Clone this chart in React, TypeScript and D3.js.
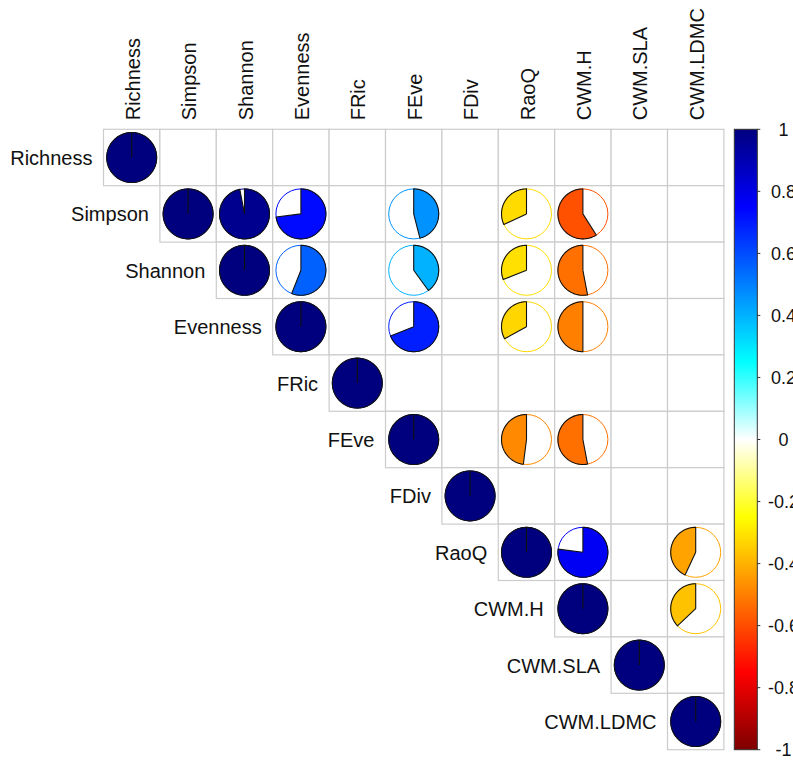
import React from "react";
import * as d3 from "d3";

const variables = ["Richness", "Simpson", "Shannon", "Evenness", "FRic", "FEve", "FDiv", "RaoQ", "CWM.H", "CWM.SLA", "CWM.LDMC"];

// upper-triangle correlations (row, column, value); blank cells omitted
const rowIndex = [0, 1, 1, 1, 1, 1, 1, 2, 2, 2, 2, 2, 3, 3, 3, 3, 4, 5, 5, 5, 6, 7, 7, 7, 8, 8, 9, 10];
const colIndex = [0, 1, 2, 3, 5, 7, 8, 2, 3, 5, 7, 8, 3, 5, 7, 8, 4, 5, 7, 8, 6, 7, 8, 10, 8, 10, 9, 10];
const corrValues = [1, 1, 0.97, 0.73, 0.46, -0.32, -0.59, 1, 0.56, 0.40, -0.31, -0.53, 1, 0.69, -0.33, -0.5, 1, 1, -0.48, -0.53, 1, 1, 0.77, -0.43, 1, -0.37, 1, 1];

const paletteStops = [-1, -0.75, -0.5, -0.25, 0, 0.25, 0.5, 0.75, 1];
const paletteColors = ["#7F0000", "#FF0000", "#FF7F00", "#FFFF00", "#FFFFFF", "#00FFFF", "#007FFF", "#0000FF", "#00007F"];
const legendTicks = [1, 0.8, 0.6, 0.4, 0.2, 0, -0.2, -0.4, -0.6, -0.8, -1];

const W = 793, H = 760;
const gridLeft = 103.5, gridTop = 129.3, cell = 56.4;
const n = variables.length;
const font = "'Liberation Sans', Arial, sans-serif";

export default function App() {
  const x = d3.scaleBand<string>().domain(variables).range([gridLeft, gridLeft + n * cell]);
  const y = d3.scaleBand<string>().domain(variables).range([gridTop, gridTop + n * cell]);
  const color = d3.scaleLinear<string>().domain(paletteStops).range(paletteColors).interpolate(d3.interpolateRgb);
  const bw = x.bandwidth();
  const r = bw * 0.443;

  const barLeft = 734.3, barRight = 757.3;
  const ly = d3.scaleLinear().domain([1, -1]).range([gridTop, gridTop + n * cell]);

  const line = d3.line<[number, number]>();

  const cells: JSX.Element[] = [];
  for (let i = 0; i < n; i++) {
    for (let j = i; j < n; j++) {
      cells.push(
        <rect key={`g${i}-${j}`} x={x(variables[j])} y={y(variables[i])} width={bw} height={bw}
          fill="white" stroke="#cccccc" strokeWidth={1.2} />
      );
    }
  }

  const pies = corrValues.map((v, k) => {
    const cx = (x(variables[colIndex[k]]) as number) + bw / 2;
    const cy = (y(variables[rowIndex[k]]) as number) + bw / 2;
    const total = v * 2 * Math.PI;
    const steps = 120;
    const pts: [number, number][] = [[cx, cy]];
    for (let s = 0; s <= steps; s++) {
      const a = (total * s) / steps;
      pts.push([cx + r * Math.sin(a), cy - r * Math.cos(a)]);
    }
    pts.push([cx, cy]);
    const c = color(v);
    return (
      <g key={`p${k}`}>
        <circle cx={cx} cy={cy} r={r} fill="white" stroke={c} strokeWidth={1} />
        <path d={line(pts) as string} fill={c} stroke="#111" strokeWidth={1.1} strokeLinejoin="round" />
      </g>
    );
  });

  return (
    <svg width={W} height={H} style={{ position: "absolute", left: 0, top: 0, background: "white" }} fontFamily={font}>
      <defs>
        <linearGradient id="cbar" x1="0" y1="0" x2="0" y2="1">
          {paletteStops.slice().reverse().map((s, i) => (
            <stop key={i} offset={`${((1 - s) / 2) * 100}%`} stopColor={color(s)} />
          ))}
        </linearGradient>
      </defs>
      {cells}
      {pies}
      {variables.map((v, i) => (
        <text key={`r${v}`} x={(x(v) as number) - 11} y={(y(v) as number) + bw / 2 + 7.5}
          textAnchor="end" fontSize={20} fill="#111">{v}</text>
      ))}
      {variables.map((v) => {
        const tx = (x(v) as number) + bw / 2 + 8;
        const ty = gridTop - 9;
        return (
          <text key={`c${v}`} transform={`translate(${tx},${ty}) rotate(-90)`} textAnchor="start"
            fontSize={20} fill="#111">{v}</text>
        );
      })}
      <rect x={barLeft} y={ly(1)} width={barRight - barLeft} height={ly(-1) - ly(1)} fill="url(#cbar)" stroke="#333" strokeWidth={1} />
      {legendTicks.map((t) => (
        <g key={`t${t}`}>
          <line x1={barRight} x2={barRight + 3} y1={ly(t)} y2={ly(t)} stroke="#333" strokeWidth={1} />
          <text x={783.5} y={ly(t) + 6.4} textAnchor="middle" fontSize={18} fill="#111">{t}</text>
        </g>
      ))}
    </svg>
  );
}
